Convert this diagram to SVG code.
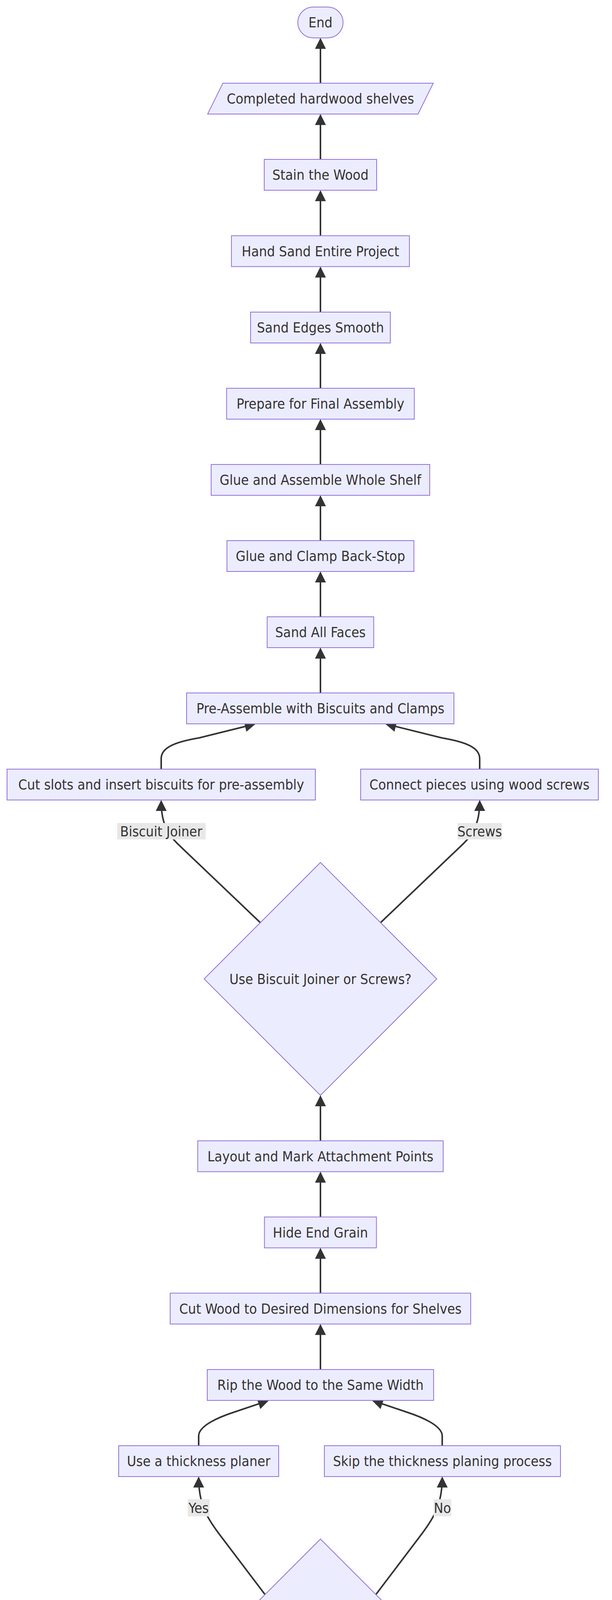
<svg xmlns="http://www.w3.org/2000/svg" width="1568" height="6108" viewBox="0 0 1568 6108">
<style>
.node rect, .node polygon { fill:#ECECFF; stroke:#9370DB; stroke-width:2; }
.lbl { font-family:"DejaVu Sans Condensed", "DejaVu Sans", Verdana, sans-serif; font-stretch:condensed; font-size:36px; fill:#333333; text-anchor:middle; dominant-baseline:central; }
.edge { fill:none; stroke:#333333; stroke-width:4; marker-end:url(#arrow); }
.elbg { fill:#e8e8e8; }
</style>
<defs>
<marker id="arrow" viewBox="0 0 10 10" refX="9" refY="5" markerUnits="userSpaceOnUse" markerWidth="28" markerHeight="28" orient="auto">
<path d="M0,0 L10,5 L0,10 z" fill="#333333"/>
</marker>
</defs>
<rect width="1568" height="6108" fill="#ffffff"/>
<g id="edges">
<path class="edge" d="M821 213 L821 99.8"/>
<path class="edge" d="M821 408 L821 294.8"/>
<path class="edge" d="M821 603.5 L821 489.8"/>
<path class="edge" d="M821 799 L821 685.3"/>
<path class="edge" d="M821 994 L821 880.8"/>
<path class="edge" d="M821 1189 L821 1075.8"/>
<path class="edge" d="M821 1384 L821 1270.8"/>
<path class="edge" d="M821 1579 L821 1465.8"/>
<path class="edge" d="M821 1774 L821 1660.8"/>
<path class="edge" d="M413 1969 L413 1942 C413 1915 445 1900 510 1889 L652.3 1853.7"/>
<path class="edge" d="M1229 1969 L1229 1942 C1229 1915 1197 1900 1132 1889 L989.7 1853.7"/>
<path class="edge" d="M667 2362 L455 2160 C425 2131 413 2100 413 2050.8"/>
<path class="edge" d="M975 2362 L1187 2160 C1217 2131 1229 2100 1229 2050.8"/>
<path class="edge" d="M821 2920.5 L821 2806.8"/>
<path class="edge" d="M821 3115.5 L821 3002.3"/>
<path class="edge" d="M821 3310.5 L821 3197.3"/>
<path class="edge" d="M821 3506 L821 3392.3"/>
<path class="edge" d="M509 3701 L509 3676 C509 3650 560 3628 600 3615 L686.3 3585.9"/>
<path class="edge" d="M1133 3701 L1133 3676 C1133 3650 1082 3628 1042 3615 L955.7 3585.9"/>
<path class="edge" d="M679 4082 L560 3925 C530 3885 509 3850 509 3782.8"/>
<path class="edge" d="M963 4082 L1082 3925 C1112 3885 1133 3850 1133 3782.8"/>
<path class="edge" d="M497.5 4709 L497.5 4690 C497.5 4650 515 4630 540 4600 L670.2 4445.1"/>
<path class="edge" d="M1144.5 4709 L1144.5 4690 C1144.5 4650 1127 4630 1102 4600 L971.8 4445.1"/>
<path class="edge" d="M697 5070 L560 4918 C520 4875 497.5 4850 497.5 4790.8"/>
<path class="edge" d="M945 5070 L1082 4918 C1122 4875 1144.5 4850 1144.5 4790.8"/>
<path class="edge" d="M821 5557.5 L821 5443.8"/>
<path class="edge" d="M821 5752 L821 5639.3"/>
<path class="edge" d="M821 5947 L821 5833.8"/>
</g>
<g id="edge-labels">
<g id="lbl-biscuit"><rect class="elbg" x="300" y="2107" width="227" height="42"/><text class="lbl" x="413" y="2128">Biscuit Joiner</text></g>
<g id="lbl-screws"><rect class="elbg" x="1172" y="2107" width="114" height="42"/><text class="lbl" x="1229" y="2128">Screws</text></g>
<g id="lbl-yes1"><rect class="elbg" x="481" y="3838" width="56" height="44"/><text class="lbl" x="509" y="3860">Yes</text></g>
<g id="lbl-no1"><rect class="elbg" x="1111" y="3838" width="45" height="44"/><text class="lbl" x="1133.5" y="3860">No</text></g>
<g id="lbl-yes2"><rect class="elbg" x="470" y="4847" width="56" height="42"/><text class="lbl" x="498" y="4868">Yes</text></g>
<g id="lbl-no2"><rect class="elbg" x="1122" y="4847" width="45" height="42"/><text class="lbl" x="1144.5" y="4868">No</text></g>
</g>
<g id="n_end" class="node"><rect x="763" y="18" width="116" height="79" rx="39.5" ry="39.5"/><text class="lbl" x="821" y="57.5">End</text></g>
<g id="n_completed" class="node"><polygon points="571,213 1110,213 1071,292 532,292"/><text class="lbl" x="821" y="252.5">Completed hardwood shelves</text></g>
<g id="n_stain" class="node"><rect x="677" y="408" width="288" height="79"/><text class="lbl" x="821" y="447.5">Stain the Wood</text></g>
<g id="n_handsand" class="node"><rect x="593" y="603.5" width="456" height="79"/><text class="lbl" x="821" y="643">Hand Sand Entire Project</text></g>
<g id="n_sandedges" class="node"><rect x="642" y="799" width="358" height="79"/><text class="lbl" x="821" y="838.5">Sand Edges Smooth</text></g>
<g id="n_prepare" class="node"><rect x="580.5" y="994" width="481" height="79"/><text class="lbl" x="821" y="1033.5">Prepare for Final Assembly</text></g>
<g id="n_glueassemble" class="node"><rect x="541" y="1189" width="560" height="79"/><text class="lbl" x="821" y="1228.5">Glue and Assemble Whole Shelf</text></g>
<g id="n_glueclamp" class="node"><rect x="581.5" y="1384" width="479" height="79"/><text class="lbl" x="821" y="1423.5">Glue and Clamp Back-Stop</text></g>
<g id="n_sandall" class="node"><rect x="684.5" y="1579" width="273" height="79"/><text class="lbl" x="821" y="1618.5">Sand All Faces</text></g>
<g id="n_preassemble" class="node"><rect x="478" y="1774" width="685" height="79"/><text class="lbl" x="821" y="1813.5">Pre-Assemble with Biscuits and Clamps</text></g>
<g id="n_cutslots" class="node"><rect x="18" y="1969" width="790" height="79"/><text class="lbl" x="413" y="2008.5">Cut slots and insert biscuits for pre-assembly</text></g>
<g id="n_connect" class="node"><rect x="924" y="1969" width="609" height="79"/><text class="lbl" x="1228.5" y="2008.5">Connect pieces using wood screws</text></g>
<g id="n_d1" class="node"><polygon points="821,2208 1119,2506 821,2804 523,2506"/><text class="lbl" x="821" y="2506">Use Biscuit Joiner or Screws?</text></g>
<g id="n_layout" class="node"><rect x="506.5" y="2920.5" width="629" height="79"/><text class="lbl" x="821" y="2960">Layout and Mark Attachment Points</text></g>
<g id="n_hide" class="node"><rect x="677.5" y="3115.5" width="287" height="79"/><text class="lbl" x="821" y="3155">Hide End Grain</text></g>
<g id="n_cutwood" class="node"><rect x="436" y="3310.5" width="770" height="79"/><text class="lbl" x="821" y="3350">Cut Wood to Desired Dimensions for Shelves</text></g>
<g id="n_rip" class="node"><rect x="531" y="3506" width="580" height="79"/><text class="lbl" x="821" y="3545.5">Rip the Wood to the Same Width</text></g>
<g id="n_useplaner" class="node"><rect x="304" y="3701" width="410" height="79"/><text class="lbl" x="509" y="3740.5">Use a thickness planer</text></g>
<g id="n_skipplaning" class="node"><rect x="831" y="3701" width="605" height="79"/><text class="lbl" x="1133.5" y="3740.5">Skip the thickness planing process</text></g>
<g id="n_d2" class="node"><polygon points="821,3940 1147,4266 821,4592 495,4266"/><text class="lbl" x="821" y="4266">Do You Have a Thickness Planer?</text></g>
<g id="n_straighten" class="node"><rect x="184" y="4709" width="627" height="79"/><text class="lbl" x="497.5" y="4748.5">Straighten the wood using a jointer</text></g>
<g id="n_skipjointer" class="node"><rect x="929" y="4709" width="432" height="79"/><text class="lbl" x="1145" y="4748.5">Skip the jointer process</text></g>
<g id="n_d3" class="node"><polygon points="821,4947 1068,5194 821,5441 574,5194"/><text class="lbl" x="821" y="5194">Do You Have a Jointer?</text></g>
<g id="n_measure" class="node"><rect x="500" y="5557.5" width="641" height="79"/><text class="lbl" x="820.5" y="5597">Measure and Understand Board Feet</text></g>
<g id="n_select" class="node"><rect x="545" y="5752" width="551" height="79"/><text class="lbl" x="820.5" y="5791.5">Select and Purchase Hardwood</text></g>
<g id="n_start" class="node"><rect x="752" y="5947" width="136" height="79" rx="39.5" ry="39.5"/><text class="lbl" x="820" y="5986.5">Start</text></g>
</svg>
